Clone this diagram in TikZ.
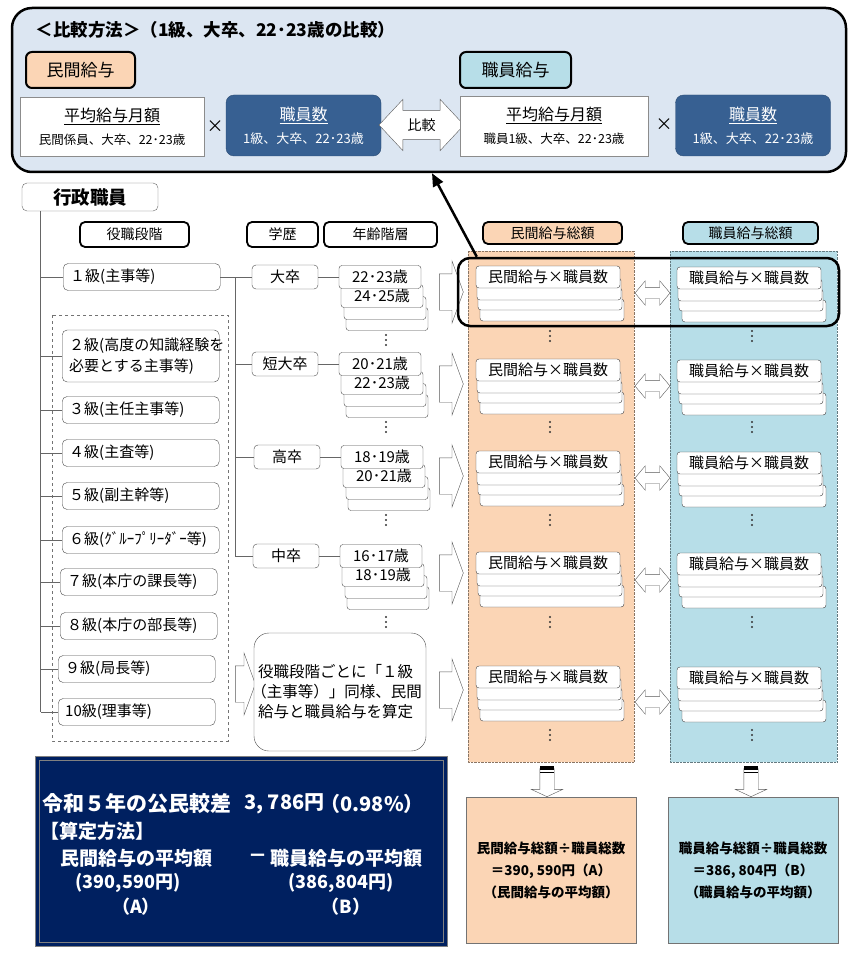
\documentclass[tikz,border=0pt]{standalone}
\usepackage{fontspec}
\setmainfont{Noto Sans CJK JP}
\usetikzlibrary{shapes.arrows, arrows.meta}

\definecolor{panelbg}{RGB}{220,230,242}
\definecolor{peach}{RGB}{251,213,181}
\definecolor{skyblue}{RGB}{183,222,232}
\definecolor{staffblue}{RGB}{55,96,146}
\definecolor{navy}{RGB}{0,32,96}

\newcommand{\jfs}[2]{\fontsize{#1pt}{#2pt}\selectfont}

\begin{document}
\begin{tikzpicture}[x=1pt, y=-1pt,
        % Frames and boxes
        panel/.style={draw, line width=2.5pt, rounded corners=20pt, fill=panelbg, minimum width=834pt, minimum height=164pt},
        tag/.style={draw, line width=2pt, rounded corners=6pt, minimum height=36pt, font=\jfs{17}{20}},
        plain/.style={draw=black!45, fill=white, align=center, font=\jfs{14}{23}},
        staff/.style={draw=staffblue!80!black, fill=staffblue, rounded corners=8pt, text=white, align=center, minimum width=155pt, minimum height=61pt, font=\jfs{14}{23}},
        head/.style={draw, line width=1.8pt, rounded corners=5pt, minimum height=25pt, font=\jfs{14}{16}},
        level/.style={draw=black!70, fill=white, rounded corners=5pt, text width=143pt, align=left, inner xsep=7pt, minimum height=27pt, font=\jfs{15}{21}, anchor=west},
        edu/.style={draw=black!70, fill=white, rounded corners=4pt, minimum width=66pt, minimum height=24pt, inner sep=0pt, font=\jfs{15}{18}},
        age/.style={draw=black!70, fill=white, rounded corners=3pt, minimum width=82pt, minimum height=23pt, inner sep=0pt, font=\jfs{15}{18}},
        prod/.style={draw=black!75, fill=white, rounded corners=3pt, minimum width=144pt, minimum height=22pt, inner sep=0pt, font=\jfs{15}{18}},
        hl/.style={draw, line width=2.5pt, rounded corners=12pt, minimum width=381pt, minimum height=68pt},
        result/.style={draw=black!55, minimum width=170pt, minimum height=146pt, align=center, font=\bfseries\jfs{13.5}{22}},
        wtext/.style={text=white, font=\bfseries\jfs{19}{22}, inner sep=0pt},
        tree/.style={draw=black!60, line width=0.9pt},
        % Block arrows
        rarrow/.style={single arrow, draw=black!65, fill=white, minimum height=24pt, single arrow head extend=13pt, single arrow tip angle=140, inner xsep=0pt, inner ysep=18pt},
        darrow/.style={single arrow, shape border rotate=270, draw=black!65, fill=white, minimum height=28pt, single arrow head extend=8.5pt, single arrow tip angle=130, inner sep=7pt},
        swap/.style={double arrow, draw=black!65, fill=white, minimum height=35pt, double arrow head extend=6.5pt, double arrow tip angle=100, inner xsep=0pt, inner ysep=5.5pt},
        cmparrow/.style={double arrow, draw=black!65, fill=white, minimum height=85pt, double arrow head extend=11pt, double arrow tip angle=94, inner xsep=2pt, inner ysep=8pt, font=\jfs{14}{16}}
    ]
    \useasboundingbox (0,0) rectangle (858,960);

    % --- COMPARISON PANEL ---
    \node[panel] (cmp) at (429,90) {};
    \node[anchor=west, font=\bfseries\jfs{17.5}{20}] (title) at (32,30) {＜比較方法＞（1級、大卒、22･23歳の比較）};
    \node[tag, minimum width=109pt, fill=peach] (tm) at (80.5,70) {民間給与};
    \node[tag, minimum width=111pt, fill=skyblue] (ts) at (515.5,70) {職員給与};

    \node[plain, minimum width=184pt, minimum height=59pt] (pw) at (112,126.5) {{\jfs{16}{20}\underline{平均給与月額}}\\{\jfs{12.5}{15}民間係員、大卒、22･23歳}};
    \node[font=\jfs{17}{20}] (x1) at (215,127) {×};
    \node[staff] (sn1) at (303.5,125.5) {{\jfs{16}{20}\underline{職員数}}\\{\jfs{13}{15}1級、大卒、22･23歳}};
    \node[cmparrow] (cmpa) at (421.5,125) {比較};
    \node[plain, minimum width=188pt, minimum height=60pt] (sw) at (554,126) {{\jfs{16}{20}\underline{平均給与月額}}\\{\jfs{12.5}{15}職員1級、大卒、22･23歳}};
    \node[font=\jfs{17}{20}] (x2) at (664,125) {×};
    \node[staff] (sn2) at (753,125.5) {{\jfs{16}{20}\underline{職員数}}\\{\jfs{13}{15}1級、大卒、22･23歳}};

    % --- HEADERS ---
    \node[draw=black!60, fill=white, rounded corners=5pt, minimum width=136pt, minimum height=28pt, font=\bfseries\jfs{18.5}{20}] (root) at (90,197) {行政職員};
    \node[head, minimum width=109pt] (h1) at (134.5,234.5) {役職段階};
    \node[head, minimum width=71pt] (h2) at (282.5,234.5) {学歴};
    \node[head, minimum width=113pt] (h3) at (380.5,234.5) {年齢階層};
    \node[head, minimum width=139pt, minimum height=22pt, fill=peach] (h4) at (552.5,233) {民間給与総額};
    \node[head, minimum width=135pt, minimum height=22pt, fill=skyblue] (h5) at (750.5,233) {職員給与総額};

    % Columns behind the totals
    \draw[densely dotted, draw=peach!55!black, fill=peach] (468,251) rectangle (634,762);
    \draw[densely dotted, draw=skyblue!55!black, fill=skyblue] (670,251) rectangle (837,762);

    % --- GRADES ---
    \draw[dashed, draw=black!55] (52,315) rectangle (228,741);
    \node[level] (L1) at (63,277) {１級(主事等)};
    \node[level, minimum height=52pt] (L2) at (62,356) {２級(高度の知識経験を\\必要とする主事等)};
    \foreach \n/\x/\y/\t in {3/62/410/３級(主任主事等), 4/62/453/４級(主査等), 5/62/496/５級(副主幹等),
            6/62/540/６級(ｸﾞﾙｰﾌﾟﾘｰﾀﾞｰ等), 7/60/582/７級(本庁の課長等), 8/60/626/８級(本庁の部長等),
            9/58/669/９級(局長等), 10/58/712/10級(理事等)}
        \node[level] (L\n) at (\x,\y) {\t};

    \coordinate (t0) at ([xshift=19pt]root.south west);
    \draw[tree] (t0) -- (t0 |- L10.west);
    \foreach \n in {1,...,10}
        \draw[tree] (t0 |- L\n.west) -- (L\n.west);

    % --- EDUCATION AND AGE ---
    \node[edu] (E1) at (285,277) {大卒};
    \node[edu] (E2) at (285,364) {短大卒};
    \node[edu] (E3) at (287,457) {高卒};
    \node[edu] (E4) at (286,556) {中卒};
    \coordinate (e0) at (235,277);
    \draw[tree] (L1.east) -- (E1.west);
    \draw[tree] (e0) -- (e0 |- E4.west);
    \foreach \n in {2,3,4}
        \draw[tree] (e0 |- E\n.west) -- (E\n.west);

    \foreach \n/\x/\y/\a/\b in {1/380/277/22･23歳/24･25歳, 2/380/364/20･21歳/22･23歳,
            3/382/457/18･19歳/20･21歳, 4/381/556/16･17歳/18･19歳}{
        \node[age] (A\n-d) at (\x+7,\y+42) {};
        \node[age] (A\n-c) at (\x+5,\y+31) {};
        \node[age] (A\n-b) at (\x+2,\y+19) {\b};
        \node[age] (A\n) at (\x,\y) {\a};
        \draw[tree] (E\n.east) -- (A\n.west);
    }
    % vertical dots
    \foreach \y in {340,427,520,622}
        \foreach \d in {-5,0,5}
            \fill[black!80] (386,\y+\d) circle (1.1pt);

    % Summary box for the other grades
    \node[rarrow, minimum height=20pt] (R0) at (242,684) {};
    \node[draw=black!70, fill=white, rounded corners=15pt, minimum width=172pt, minimum height=118pt, align=left, font=\jfs{15.5}{20}] (calc) at (340,692) {役職段階ごとに「１級\\\kern-.45em（主事等）」同様、民間\\給与と職員給与を算定};

    \foreach \n/\y in {1/292,2/384,3/476,4/573,5/690}
        \node[rarrow] (R\n) at (448,\y) {};

    % --- TOTALS ---
    \foreach \n/\y in {1/277,2/370,3/462,4/563,5/677}{
        \node[prod] (P\n-d) at (552,\y+33) {};
        \node[prod] (P\n-c) at (550,\y+22) {};
        \node[prod] (P\n-b) at (549,\y+12) {};
        \node[prod] (P\n) at (548,\y) {民間給与×職員数};
        \node[prod] (Q\n-d) at (754,\y+34) {};
        \node[prod] (Q\n-c) at (751,\y+23) {};
        \node[prod] (Q\n-b) at (750,\y+13) {};
        \node[prod] (Q\n) at (749,\y+1) {職員給与×職員数};
    }
    \foreach \n/\y in {1/293,2/386,3/478,4/580,5/702}
        \node[swap] (X\n) at (652.5,\y) {};
    \foreach \y in {336,427,520,622,735}
        \foreach \d in {-5,0,5}{
            \fill[black!80] (550,\y+\d) circle (1.1pt);
            \fill[black!80] (752,\y+\d) circle (1.1pt);
        }

    % Highlighted row and link to the panel
    \node[hl] (hl) at (648.5,292) {};
    \draw[line width=2.5pt, -{Triangle[length=13pt, width=11pt]}] ([xshift=20pt]hl.north west) -- ([xshift=3pt]cmp.south);

    % --- AVERAGES ---
    \node[darrow] (D1) at (547,781) {};
    \fill (540,766) rectangle (554,769.5);
    \draw[line width=0.8pt] (540,772) -- (554,772);
    \node[darrow] (D2) at (751,781) {};
    \fill (744,766) rectangle (758,769.5);
    \draw[line width=0.8pt] (744,772) -- (758,772);

    \node[result, fill=peach] (avgm) at (551,870) {民間給与総額÷職員総数\\＝390, 590円（A）\\（民間給与の平均額）};
    \node[result, fill=skyblue] (avgs) at (753,870) {職員給与総額÷職員総数\\＝386, 804円（B）\\（職員給与の平均額）};

    % --- GAP ---
    \node[draw=black!50, double=navy, double distance=2.5pt, line width=0.8pt, fill=navy, minimum width=408pt, minimum height=186pt] (gap) at (241.5,851.5) {};
    \node[wtext, font=\bfseries\jfs{21}{22}, anchor=west] (g1a) at (42,804) {令和５年の公民較差};
    \node[wtext, font=\bfseries\jfs{20}{22}, anchor=west] (g1b) at (244,804) {3, 786円};
    \node[wtext, font=\bfseries\jfs{20}{22}, anchor=east] (g1c) at (424,804) {（0.98\%）};
    \node[wtext, anchor=west] (g2) at (40,831) {【算定方法】};
    \node[wtext, anchor=west] (g3a) at (60,858) {民間給与の平均額};
    \node[wtext] (g3m) at (258,858) {－};
    \node[wtext, anchor=west] (g3b) at (270,858) {職員給与の平均額};
    \node[wtext, font=\bfseries\jfs{18}{20}] (g4a) at (128,883) {(390,590円)};
    \node[wtext, font=\bfseries\jfs{18}{20}] (g4b) at (341,883) {(386,804円)};
    \node[wtext, font=\bfseries\jfs{18}{20}] (g5a) at (136,907) {（A）};
    \node[wtext, font=\bfseries\jfs{18}{20}] (g5b) at (346,907) {（B）};

\end{tikzpicture}
\end{document}
